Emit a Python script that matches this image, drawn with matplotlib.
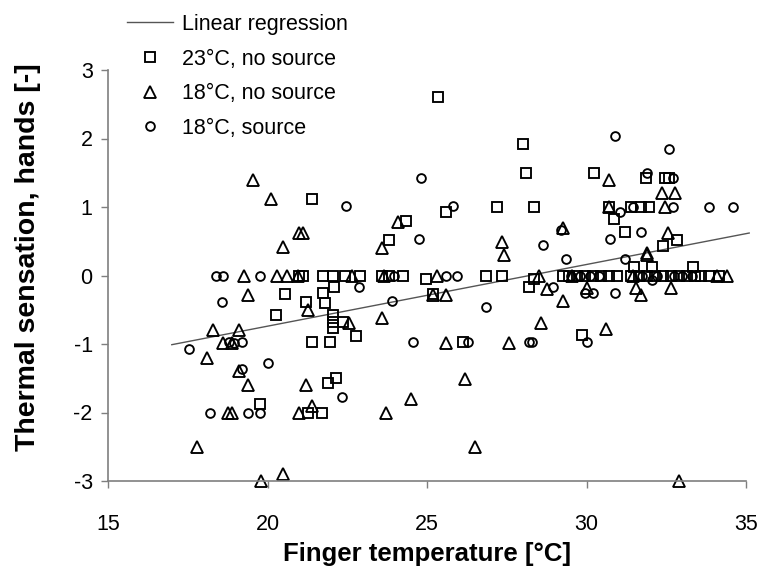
import matplotlib
matplotlib.use("Agg")
import matplotlib.pyplot as plt
import numpy as np

plt.rcParams['font.family'] = ['Liberation Sans', 'DejaVu Sans']
plt.rcParams['axes.unicode_minus'] = False

# 23°C, no source
sq_t = [25.35, 28.0, 28.1, 30.25, 21.4, 25.6, 24.35, 27.2, 28.35, 23.8,
        31.85, 32.45, 32.6, 30.7, 31.4, 31.7, 31.95, 30.85, 31.2, 32.4,
        32.85, 31.5, 32.05, 33.35,
        21.0, 21.1, 21.75, 22.05, 22.43, 22.9, 23.6, 23.8, 24.25, 26.85, 27.35,
        29.25, 29.45, 29.7, 29.95, 30.2, 30.45, 30.7, 30.95, 31.4, 31.65,
        31.9, 32.15, 32.4, 32.65, 32.9, 33.15, 33.4, 33.6, 33.85, 34.15,
        22.1, 21.75, 20.55, 21.2, 21.8, 20.27, 22.05, 22.05, 22.05, 22.37,
        22.77, 21.4, 21.96, 26.13, 22.15, 21.9, 19.75, 21.28, 21.7, 24.97,
        25.2, 28.2, 28.35, 29.85]
sq_s = [2.6, 1.92, 1.5, 1.5, 1.12, 0.92, 0.8, 1.0, 1.0, 0.52,
        1.42, 1.42, 1.42, 1.0, 1.0, 1.0, 1.0, 0.82, 0.63, 0.43,
        0.52, 0.13, 0.13, 0.12,
        0, 0, 0, 0, 0, 0, 0, 0, 0, 0, 0,
        0, 0, 0, 0, 0, 0, 0, 0, 0, 0,
        0, 0, 0, 0, 0, 0, 0, 0, 0, 0,
        -0.17, -0.26, -0.27, -0.39, -0.4, -0.58, -0.58, -0.68, -0.77, -0.68,
        -0.88, -0.97, -0.97, -0.97, -1.5, -1.57, -1.87, -2.0, -2.0, -0.05,
        -0.27, -0.17, -0.05, -0.87]

# 18°C, no source
tr_t = [19.55, 20.1, 21.0, 21.1, 20.5, 19.27, 20.3, 20.6, 20.95, 19.4,
        21.27, 18.3, 19.1, 18.6, 18.9, 18.1, 19.1, 19.4, 21.2, 21.4,
        18.75, 18.9, 21.0, 17.8, 19.8, 20.5,
        23.6, 22.55, 25.2, 25.6, 25.6, 27.57, 26.2, 24.5, 23.7, 26.5,
        24.1, 23.6, 22.65, 23.65, 25.3, 27.35, 27.4, 28.5, 28.76,
        30.7, 32.37, 32.78, 30.7, 32.45, 32.55, 29.27, 31.9, 31.9, 29.27,
        30.0, 31.55, 31.7, 32.65, 28.56, 30.6, 29.55, 31.45, 34.1, 34.4, 32.9]
tr_s = [1.4, 1.12, 0.62, 0.62, 0.42, 0, 0, 0, 0, -0.28,
        -0.5, -0.8, -0.8, -0.99, -0.99, -1.2, -1.4, -1.6, -1.6, -1.9,
        -2.0, -2.0, -2.0, -2.5, -3.0, -2.9,
        -0.62, -0.7, -0.28, -0.28, -0.98, -0.98, -1.51, -1.8, -2.0, -2.5,
        0.78, 0.4, 0, 0, 0, 0.49, 0.3, 0, -0.2,
        1.4, 1.2, 1.2, 1.0, 1.0, 0.62, 0.7, 0.3, 0.33, -0.37,
        -0.18, -0.18, -0.28, -0.18, -0.7, -0.78, 0, 0, 0, 0, -3.0]

# 18°C, source
ci_t = [18.4, 18.6, 19.75, 18.57, 17.55, 18.8, 18.95, 19.2, 19.2, 20.0,
        18.2, 19.4, 19.76, 22.35,
        22.87, 23.9, 26.85, 24.55, 26.3, 28.2, 28.3, 30.0,
        22.46, 25.8, 24.8, 24.75, 23.95, 25.6, 25.95, 28.65, 28.95, 29.95,
        30.2, 30.9,
        30.9, 32.6, 31.9, 32.7, 31.45, 32.7, 33.85, 34.6, 31.05, 29.2,
        31.7, 30.75, 29.35, 31.2, 32.05,
        29.5, 29.8, 30.1, 30.4, 31.75, 32.2, 32.75, 33.0, 33.3]
ci_s = [0, 0, 0, -0.38, -1.08, -0.97, -0.98, -0.97, -1.37, -1.28,
        -2.0, -2.0, -2.0, -1.78,
        -0.17, -0.37, -0.46, -0.97, -0.97, -0.97, -0.97, -0.97,
        1.02, 1.02, 1.42, 0.53, 0, 0, 0, 0.44, -0.17, -0.26,
        -0.26, -0.26,
        2.03, 1.84, 1.5, 1.42, 1.0, 1.0, 1.0, 1.0, 0.93, 0.66,
        0.63, 0.53, 0.24, 0.24, -0.06,
        0, 0, 0, 0, 0, 0, 0, 0, 0]

# regression line end points
reg_t = [17.0, 35.1]
reg_s = [-1.01, 0.62]

fig = plt.figure(figsize=(7.6, 5.72), dpi=100)
ax = fig.add_axes([108 / 760, 1 - 481 / 572, (746 - 108) / 760, (481 - 70) / 572])

axis_gray = '#7f7f7f'
ln, = ax.plot(reg_t, reg_s, color='#555555', lw=1.0, clip_on=False,
              label='Linear regression')
mkw = dict(linestyle='none', markerfacecolor='none', markeredgecolor='black',
           markeredgewidth=1.35, clip_on=False)
h1, = ax.plot(sq_t, sq_s, marker='s', markersize=7.0, label='23°C, no source', **mkw)
h2, = ax.plot(tr_t, tr_s, marker='^', markersize=8.0, label='18°C, no source', **mkw)
h3, = ax.plot(ci_t, ci_s, marker='o', markersize=6.3, label='18°C, source', **mkw)

ax.set_xlim(15, 35)
ax.set_ylim(-3, 3)
ax.set_xticks([15, 20, 25, 30, 35])
ax.set_yticks([-3, -2, -1, 0, 1, 2, 3])
for side in ('top', 'right'):
    ax.spines[side].set_visible(False)
for side in ('left', 'bottom'):
    ax.spines[side].set_color(axis_gray)
    ax.spines[side].set_linewidth(1.2)
ax.tick_params(direction='out', length=5, width=1.0, color=axis_gray,
               labelsize=15.5, pad=6)
ax.tick_params(axis='x', pad=19)

ax.set_xlabel('Finger temperature [°C]', fontsize=18.5, fontweight='bold', labelpad=5)
ax.set_ylabel('Thermal sensation, hands [-]', fontsize=20.5, fontweight='bold')
ax.yaxis.set_label_coords(-0.105, 0.545)

fig.legend(handles=[ln, h1, h2, h3], loc='upper left',
           bbox_to_anchor=(127 / 760, 1 - 14 / 572), frameon=False,
           fontsize=15.5, handlelength=2.15, handletextpad=0.42,
           labelspacing=0.63, borderpad=0, borderaxespad=0)

fig.savefig('out.png', dpi=100)
